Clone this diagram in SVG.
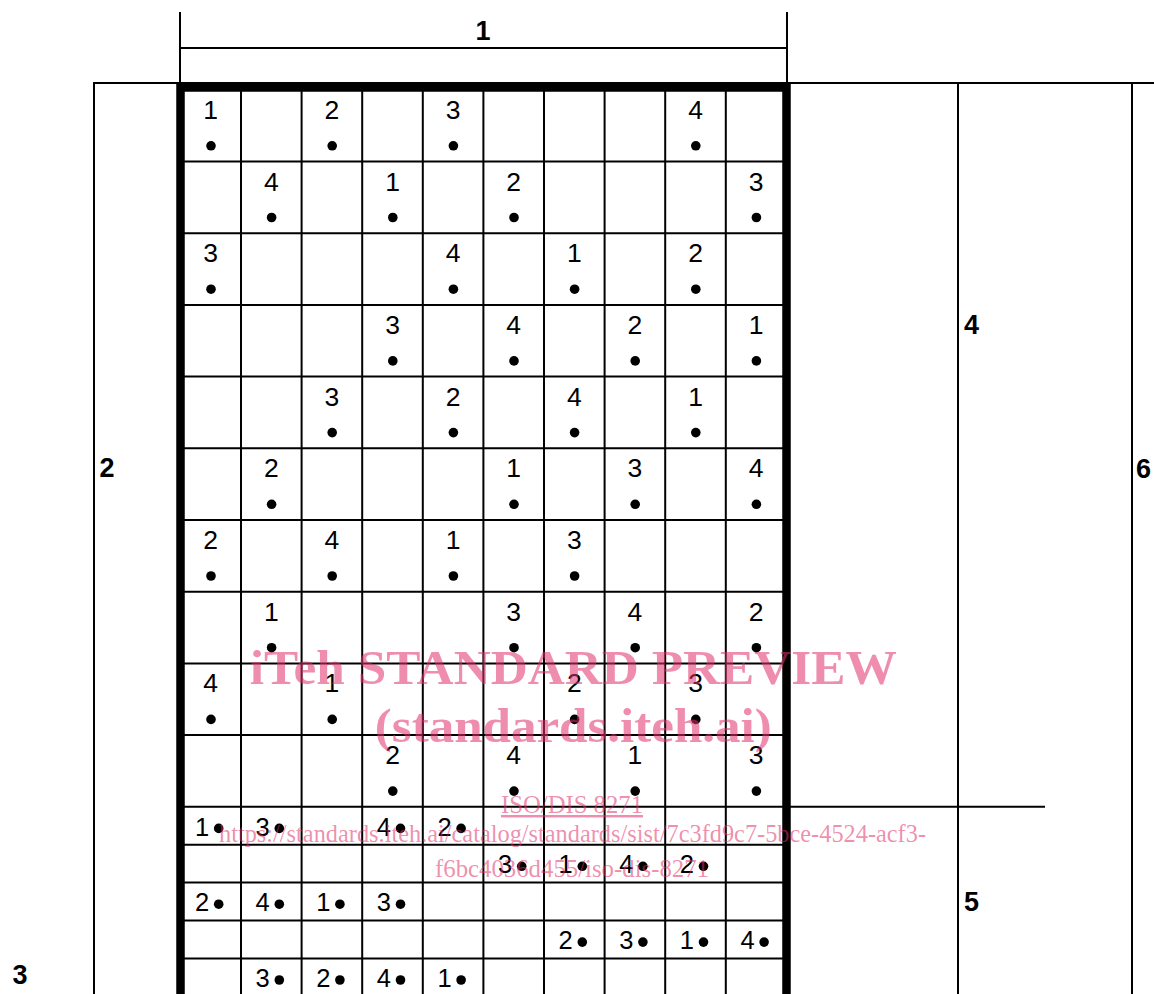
<svg xmlns="http://www.w3.org/2000/svg" width="1154" height="994" viewBox="0 0 1154 994">
<style>
.t{font-family:"Liberation Sans",Arial,sans-serif;font-size:26.5px;fill:#000}
.s{font-size:25.5px}
.m{text-anchor:middle}
.e{text-anchor:end}
.b{font-family:"Liberation Sans",Arial,sans-serif;font-weight:bold;font-size:27px;fill:#000}
.ln{stroke:#000;stroke-width:2;fill:none}
.thick{stroke:#000;stroke-width:8.5;fill:none;stroke-linejoin:miter}
.d{fill:#000}
.wm{font-family:"Liberation Serif","Times New Roman",serif;fill:#e0306a;fill-opacity:0.55;text-anchor:middle}
.wb{font-weight:bold;font-size:49px}
.ws{font-size:24.5px}
</style>
<rect width="1154" height="994" fill="#fff"/>
<g id="connectors">
<path class="ln" d="M180,12V83M787,12V83M180,48H787M93,83H1154M94,83V994M958,83V994M1132,83V994M787,806.8H1045"/>
<path class="ln" d="M241,87.5V994M301.6,87.5V994M362.2,87.5V994M422.8,87.5V994M483.4,87.5V994M544,87.5V994M604.6,87.5V994M665.2,87.5V994M725.8,87.5V994"/>
<path class="ln" d="M180.5,161.5H786.5M180.5,233.2H786.5M180.5,304.9H786.5M180.5,376.6H786.5M180.5,448.3H786.5M180.5,520H786.5M180.5,591.7H786.5M180.5,663.4H786.5M180.5,735.1H786.5M180.5,806.8H786.5M180.5,844.7H786.5M180.5,882.6H786.5M180.5,920.5H786.5M180.5,958.4H786.5"/>
<path class="thick" d="M180.5,994V87.5H786.5V994"/>
</g>
<g id="labels">
<text id="label-1" class="b" x="483" y="40" text-anchor="middle">1</text>
<text id="label-2" class="b" x="99.5" y="477">2</text>
<text id="label-3" class="b" x="12.5" y="983.5">3</text>
<text id="label-4" class="b" x="964" y="334">4</text>
<text id="label-5" class="b" x="964" y="911">5</text>
<text id="label-6" class="b" x="1136" y="478">6</text>
</g>
<g id="row1"><text class="t m" x="210.7" y="118.8">1</text><circle class="d" cx="211" cy="145.8" r="4.8"/><text class="t m" x="331.9" y="118.8">2</text><circle class="d" cx="332.2" cy="145.8" r="4.8"/><text class="t m" x="453.1" y="118.8">3</text><circle class="d" cx="453.4" cy="145.8" r="4.8"/><text class="t m" x="695.5" y="118.8">4</text><circle class="d" cx="695.8" cy="145.8" r="4.8"/></g>
<g id="row2"><text class="t m" x="271.3" y="190.5">4</text><circle class="d" cx="271.6" cy="217.5" r="4.8"/><text class="t m" x="392.5" y="190.5">1</text><circle class="d" cx="392.8" cy="217.5" r="4.8"/><text class="t m" x="513.7" y="190.5">2</text><circle class="d" cx="514" cy="217.5" r="4.8"/><text class="t m" x="756.1" y="190.5">3</text><circle class="d" cx="756.4" cy="217.5" r="4.8"/></g>
<g id="row3"><text class="t m" x="210.7" y="262.2">3</text><circle class="d" cx="211" cy="289.2" r="4.8"/><text class="t m" x="453.1" y="262.2">4</text><circle class="d" cx="453.4" cy="289.2" r="4.8"/><text class="t m" x="574.3" y="262.2">1</text><circle class="d" cx="574.6" cy="289.2" r="4.8"/><text class="t m" x="695.5" y="262.2">2</text><circle class="d" cx="695.8" cy="289.2" r="4.8"/></g>
<g id="row4"><text class="t m" x="392.5" y="333.9">3</text><circle class="d" cx="392.8" cy="360.9" r="4.8"/><text class="t m" x="513.7" y="333.9">4</text><circle class="d" cx="514" cy="360.9" r="4.8"/><text class="t m" x="634.9" y="333.9">2</text><circle class="d" cx="635.2" cy="360.9" r="4.8"/><text class="t m" x="756.1" y="333.9">1</text><circle class="d" cx="756.4" cy="360.9" r="4.8"/></g>
<g id="row5"><text class="t m" x="331.9" y="405.6">3</text><circle class="d" cx="332.2" cy="432.6" r="4.8"/><text class="t m" x="453.1" y="405.6">2</text><circle class="d" cx="453.4" cy="432.6" r="4.8"/><text class="t m" x="574.3" y="405.6">4</text><circle class="d" cx="574.6" cy="432.6" r="4.8"/><text class="t m" x="695.5" y="405.6">1</text><circle class="d" cx="695.8" cy="432.6" r="4.8"/></g>
<g id="row6"><text class="t m" x="271.3" y="477.3">2</text><circle class="d" cx="271.6" cy="504.3" r="4.8"/><text class="t m" x="513.7" y="477.3">1</text><circle class="d" cx="514" cy="504.3" r="4.8"/><text class="t m" x="634.9" y="477.3">3</text><circle class="d" cx="635.2" cy="504.3" r="4.8"/><text class="t m" x="756.1" y="477.3">4</text><circle class="d" cx="756.4" cy="504.3" r="4.8"/></g>
<g id="row7"><text class="t m" x="210.7" y="549">2</text><circle class="d" cx="211" cy="576" r="4.8"/><text class="t m" x="331.9" y="549">4</text><circle class="d" cx="332.2" cy="576" r="4.8"/><text class="t m" x="453.1" y="549">1</text><circle class="d" cx="453.4" cy="576" r="4.8"/><text class="t m" x="574.3" y="549">3</text><circle class="d" cx="574.6" cy="576" r="4.8"/></g>
<g id="row8"><text class="t m" x="271.3" y="620.7">1</text><circle class="d" cx="271.6" cy="647.7" r="4.8"/><text class="t m" x="513.7" y="620.7">3</text><circle class="d" cx="514" cy="647.7" r="4.8"/><text class="t m" x="634.9" y="620.7">4</text><circle class="d" cx="635.2" cy="647.7" r="4.8"/><text class="t m" x="756.1" y="620.7">2</text><circle class="d" cx="756.4" cy="647.7" r="4.8"/></g>
<g id="row9"><text class="t m" x="210.7" y="692.4">4</text><circle class="d" cx="211" cy="719.4" r="4.8"/><text class="t m" x="331.9" y="692.4">1</text><circle class="d" cx="332.2" cy="719.4" r="4.8"/><text class="t m" x="574.3" y="692.4">2</text><circle class="d" cx="574.6" cy="719.4" r="4.8"/><text class="t m" x="695.5" y="692.4">3</text><circle class="d" cx="695.8" cy="719.4" r="4.8"/></g>
<g id="row10"><text class="t m" x="392.5" y="764.1">2</text><circle class="d" cx="392.8" cy="791.1" r="4.8"/><text class="t m" x="513.7" y="764.1">4</text><circle class="d" cx="514" cy="791.1" r="4.8"/><text class="t m" x="634.9" y="764.1">1</text><circle class="d" cx="635.2" cy="791.1" r="4.8"/><text class="t m" x="756.1" y="764.1">3</text><circle class="d" cx="756.4" cy="791.1" r="4.8"/></g>
<g id="row11"><text class="t s e" x="209.2" y="835.5">1</text><circle class="d" cx="218.7" cy="828.4" r="4.8"/><text class="t s e" x="269.8" y="835.5">3</text><circle class="d" cx="279.3" cy="828.4" r="4.8"/><text class="t s e" x="391" y="835.5">4</text><circle class="d" cx="400.5" cy="828.4" r="4.8"/><text class="t s e" x="451.6" y="835.5">2</text><circle class="d" cx="461.1" cy="828.4" r="4.8"/></g>
<g id="row12"><text class="t s e" x="512.2" y="873.4">3</text><circle class="d" cx="521.7" cy="866.3" r="4.8"/><text class="t s e" x="572.8" y="873.4">1</text><circle class="d" cx="582.3" cy="866.3" r="4.8"/><text class="t s e" x="633.4" y="873.4">4</text><circle class="d" cx="642.9" cy="866.3" r="4.8"/><text class="t s e" x="694" y="873.4">2</text><circle class="d" cx="703.5" cy="866.3" r="4.8"/></g>
<g id="row13"><text class="t s e" x="209.2" y="911.3">2</text><circle class="d" cx="218.7" cy="904.2" r="4.8"/><text class="t s e" x="269.8" y="911.3">4</text><circle class="d" cx="279.3" cy="904.2" r="4.8"/><text class="t s e" x="330.4" y="911.3">1</text><circle class="d" cx="339.9" cy="904.2" r="4.8"/><text class="t s e" x="391" y="911.3">3</text><circle class="d" cx="400.5" cy="904.2" r="4.8"/></g>
<g id="row14"><text class="t s e" x="572.8" y="949.2">2</text><circle class="d" cx="582.3" cy="942.1" r="4.8"/><text class="t s e" x="633.4" y="949.2">3</text><circle class="d" cx="642.9" cy="942.1" r="4.8"/><text class="t s e" x="694" y="949.2">1</text><circle class="d" cx="703.5" cy="942.1" r="4.8"/><text class="t s e" x="754.6" y="949.2">4</text><circle class="d" cx="764.1" cy="942.1" r="4.8"/></g>
<g id="row15"><text class="t s e" x="269.8" y="987.1">3</text><circle class="d" cx="279.3" cy="980" r="4.8"/><text class="t s e" x="330.4" y="987.1">2</text><circle class="d" cx="339.9" cy="980" r="4.8"/><text class="t s e" x="391" y="987.1">4</text><circle class="d" cx="400.5" cy="980" r="4.8"/><text class="t s e" x="451.6" y="987.1">1</text><circle class="d" cx="461.1" cy="980" r="4.8"/></g>
<g id="watermark">
<text class="wm wb" x="573.3" y="683.5" textLength="647" lengthAdjust="spacingAndGlyphs">iTeh STANDARD PREVIEW</text>
<text class="wm wb" x="573.3" y="741.5" textLength="397" lengthAdjust="spacingAndGlyphs">(standards.iteh.ai)</text>
<text class="wm ws" x="572" y="813" text-decoration="underline" textLength="142" lengthAdjust="spacingAndGlyphs">ISO/DIS 8271</text>
<text class="wm ws" x="572.5" y="842" textLength="707" lengthAdjust="spacingAndGlyphs">https://standards.iteh.ai/catalog/standards/sist/7c3fd9c7-5bce-4524-acf3-</text>
<text class="wm ws" x="572" y="877" textLength="274" lengthAdjust="spacingAndGlyphs">f6bc4036d455/iso-dis-8271</text>
</g>
</svg>
